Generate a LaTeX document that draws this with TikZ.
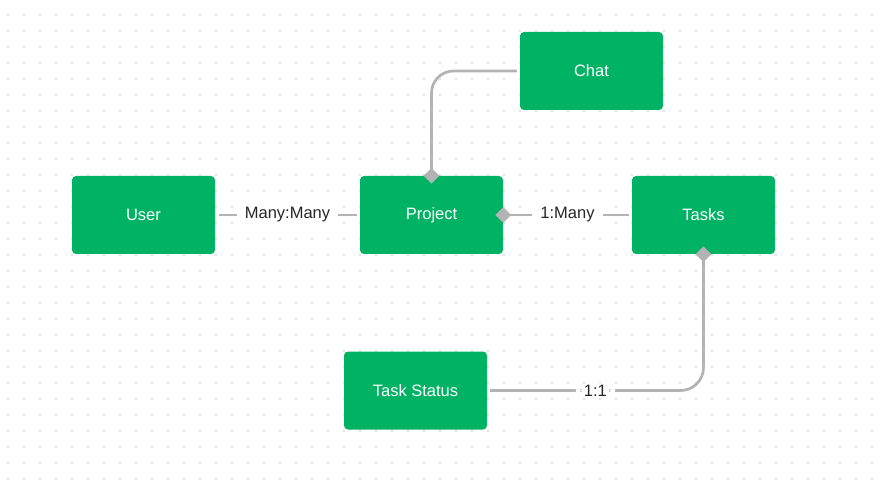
\documentclass[tikz,border=0pt]{standalone}
\usepackage{fontspec}
\setmainfont{Liberation Sans}
\usetikzlibrary{shapes.geometric}
\definecolor{boxgreen}{HTML}{00B263}
\definecolor{linegray}{HTML}{B3B3B3}
\definecolor{dotgray}{HTML}{E2E2E2}
\definecolor{labeltext}{HTML}{262626}
\tikzset{
  entity/.style={draw=none, fill=boxgreen, rounded corners=4pt, minimum width=143pt, minimum height=78pt, inner sep=0pt, text=white, font=\fontsize{16.5pt}{18pt}\selectfont},
  conn/.style={draw=linegray, line width=2.7pt},
  lbl/.style={fill=white, text=labeltext, inner xsep=8pt, inner ysep=3pt, font=\fontsize{16.5pt}{18pt}\selectfont},
  endmark/.style={diamond, fill=linegray, inner sep=0pt, minimum width=16pt, minimum height=16pt}
}
\begin{document}
\begin{tikzpicture}[x=1pt, y=-1pt]
\useasboundingbox (0,0) rectangle (875,486);
\fill[white] (0,0) rectangle (875,486);
\foreach \i in {0,...,54} {
  \foreach \j in {0,...,29} {
    \fill[dotgray] ({7+16*\i},{14+16*\j}) rectangle ++(2,2);
  }
}
\node[entity] (user) at (143.5,215) {User};
\node[entity] (project) at (431.5,215) {Project};
\node[entity] (tasks) at (703.5,215) {Tasks};
\node[entity] (chat) at (591.5,71) {Chat};
\node[entity] (status) at (415.5,390.5) {Task Status};

\draw[conn, shorten <=4pt, shorten >=3pt] (user.east) -- node[lbl] (l1) {Many:Many} (project.west);
\draw[conn, shorten >=3pt] (project.east) -- node[lbl] (l2) {1:Many} (tasks.west);
\draw[conn, rounded corners=22pt, shorten <=3pt] (chat.west) -| (project.north);
\draw[conn, rounded corners=23pt, shorten >=3pt] (tasks.south) |- node[lbl, pos=0.75] (l3) {1:1} (status.east);

\node[endmark] (d1) at (project.north) {};
\node[endmark] (d2) at (project.east) {};
\node[endmark] (d3) at (tasks.south) {};
\end{tikzpicture}
\end{document}
